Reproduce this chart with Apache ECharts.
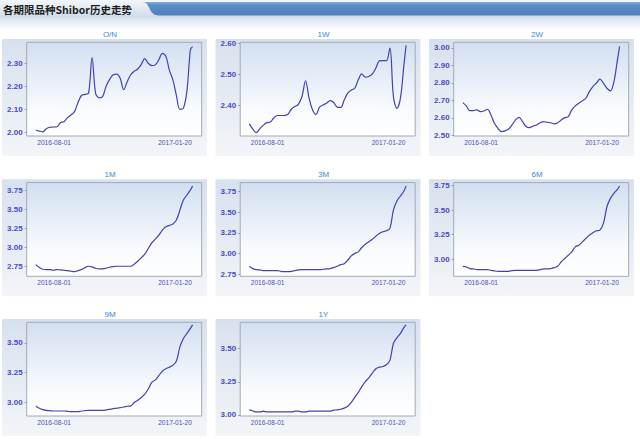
<!DOCTYPE html>
<html><head><meta charset="utf-8">
<script src="https://cdn.jsdelivr.net/npm/echarts@6/dist/echarts.min.js"></script>
<style>html,body{margin:0;padding:0;background:#fff;overflow:hidden}#c{width:640px;height:439px}</style>
</head><body><div id="c"></div>
<script>
const DATES = ['2016-07-06','2016-07-11','2016-07-16','2016-07-21','2016-07-26','2016-07-31',
'2016-08-05','2016-08-10','2016-08-15','2016-08-20','2016-08-25','2016-08-30',
'2016-09-04','2016-09-09','2016-09-14','2016-09-19','2016-09-24','2016-09-29',
'2016-10-04','2016-10-09','2016-10-14','2016-10-19','2016-10-24','2016-10-29',
'2016-11-03','2016-11-08','2016-11-13','2016-11-18','2016-11-23','2016-11-28',
'2016-12-03','2016-12-08','2016-12-13','2016-12-18','2016-12-23','2016-12-28',
'2017-01-02','2017-01-07','2017-01-12','2017-01-17','2017-01-22','2017-01-27',
'2017-02-01','2017-02-06','2017-02-11','2017-02-14'];

const ON = [2.010,2.005,2.002,2.016,2.022,2.023,2.024,2.042,2.046,2.064,2.075,2.090,2.130,2.160,2.165,2.170,2.325,2.170,2.150,2.155,2.200,2.230,2.250,2.253,2.235,2.185,2.220,2.250,2.265,2.275,2.295,2.320,2.300,2.290,2.293,2.315,2.343,2.330,2.270,2.228,2.160,2.100,2.105,2.180,2.360,2.372];
const W1 = [2.341,2.324,2.313,2.326,2.337,2.345,2.347,2.361,2.368,2.368,2.368,2.372,2.389,2.397,2.405,2.430,2.480,2.424,2.386,2.372,2.395,2.402,2.408,2.416,2.410,2.395,2.394,2.418,2.440,2.450,2.456,2.483,2.502,2.492,2.494,2.502,2.521,2.544,2.545,2.545,2.585,2.429,2.391,2.424,2.532,2.594];
const W2 = [2.687,2.668,2.641,2.641,2.645,2.635,2.639,2.649,2.616,2.569,2.540,2.521,2.525,2.536,2.559,2.588,2.603,2.578,2.550,2.544,2.553,2.559,2.572,2.578,2.574,2.572,2.565,2.572,2.588,2.601,2.607,2.645,2.668,2.683,2.697,2.712,2.750,2.779,2.798,2.821,2.798,2.769,2.754,2.807,2.931,3.008];
const M1 = [2.772,2.732,2.710,2.706,2.706,2.697,2.706,2.701,2.697,2.692,2.684,2.679,2.692,2.706,2.732,2.750,2.741,2.723,2.715,2.715,2.723,2.737,2.746,2.750,2.750,2.750,2.750,2.750,2.777,2.816,2.861,2.909,2.984,3.060,3.108,3.161,3.228,3.272,3.290,3.308,3.361,3.493,3.626,3.692,3.759,3.812];
const M3 = [2.847,2.819,2.807,2.803,2.795,2.795,2.795,2.795,2.795,2.786,2.782,2.782,2.786,2.795,2.803,2.807,2.807,2.807,2.807,2.807,2.807,2.811,2.815,2.819,2.831,2.847,2.867,2.879,2.920,2.973,3.001,3.021,3.074,3.114,3.143,3.175,3.212,3.244,3.264,3.276,3.305,3.527,3.637,3.697,3.758,3.819];
const M6 = [2.928,2.921,2.904,2.901,2.894,2.894,2.894,2.894,2.887,2.881,2.877,2.877,2.877,2.877,2.884,2.887,2.887,2.887,2.887,2.887,2.887,2.887,2.894,2.901,2.901,2.904,2.915,2.928,2.973,3.007,3.041,3.075,3.126,3.143,3.177,3.211,3.245,3.269,3.290,3.297,3.365,3.535,3.620,3.672,3.712,3.747];
const M9 = [2.966,2.949,2.938,2.932,2.929,2.926,2.926,2.926,2.926,2.923,2.920,2.920,2.920,2.926,2.929,2.932,2.932,2.932,2.932,2.932,2.935,2.940,2.946,2.949,2.955,2.960,2.966,2.969,2.997,3.017,3.040,3.068,3.111,3.168,3.188,3.224,3.261,3.281,3.295,3.310,3.347,3.466,3.537,3.580,3.622,3.651];
const Y1 = [3.038,3.030,3.023,3.023,3.028,3.023,3.023,3.023,3.023,3.023,3.023,3.023,3.023,3.028,3.028,3.023,3.023,3.028,3.028,3.028,3.028,3.028,3.028,3.028,3.036,3.038,3.043,3.051,3.066,3.094,3.132,3.170,3.213,3.251,3.279,3.315,3.348,3.360,3.365,3.378,3.411,3.538,3.581,3.614,3.660,3.678];

const NAMES = ['O/N','1W','2W','1M','3M','6M','9M','1Y'];
const X_LABELS = ['2016-08-01','2017-01-20'];
const X_RANGE = ['2016-06-23','2017-02-27'];
const ON_TICKS = [2.00,2.10,2.20,2.30];
const W1_TICKS = [2.40,2.50,2.60];
const W2_TICKS = [2.50,2.60,2.70,2.80,2.90,3.00];
const M1_TICKS = [2.75,3.00,3.25,3.50,3.75];
const M3_TICKS = [2.75,3.00,3.25,3.50,3.75];
const M6_TICKS = [3.00,3.25,3.50,3.75];
const M9_TICKS = [3.00,3.25,3.50];
const Y1_TICKS = [3.00,3.25,3.50];
const TITLE = '各期限品种Shibor历史走势';

const SERIES = [ON,W1,W2,M1,M3,M6,M9,Y1];
const TICKS = [ON_TICKS,W1_TICKS,W2_TICKS,M1_TICKS,M3_TICKS,M6_TICKS,M9_TICKS,Y1_TICKS];
const Y_MIN = [1.984,2.302,2.496,2.617,2.726,2.826,2.884,2.992];
const Y_MAX = [2.391,2.604,3.032,3.856,3.859,3.781,3.673,3.698];

function ts(s){const p=s.split('-').map(Number);return new Date(p[0],p[1]-1,p[2]).getTime();}
function pad(n){return (n<10?'0':'')+n;}
function fmtDate(v){const d=new Date(v);return d.getFullYear()+'-'+pad(d.getMonth()+1)+'-'+pad(d.getDate());}
function lg(stops){return {type:'linear',x:0,y:0,x2:0,y2:1,colorStops:stops.map(s=>({offset:s[0],color:s[1]}))};}

const COL_X=[0,213.5,427], ROW_Y=[0,140.3,280];
const grids=[],xAxes=[],yAxes=[],series=[];
const graphics=[
  {type:'rect',shape:{x:0,y:0,width:640,height:18},z:-20,style:{fill:lg([[0,'#f3f6fa'],[1,'#cddbea']])}},
  {type:'polygon',shape:{points:[[142,2],[640,2],[640,15.5],[158,15.5],[154,14.5],[151,11.5],[149,7.5],[147,4],[145,2.5]]},z:-19,
    style:{fill:lg([[0,'#86aedb'],[0.25,'#5a8cc6'],[1,'#4d81be']])}},
  {type:'rect',shape:{x:0,y:18,width:640,height:12},z:-20,style:{fill:lg([[0,'#d9e3ee'],[1,'#ffffff']])}},
  {type:'text',x:3,y:9.5,z:5,style:{text:TITLE,fill:'#1e1e1e',font:'bold 10.5px "Noto Sans CJK SC", sans-serif',textVerticalAlign:'middle',textAlign:'left'}}
];
for(let k=0;k<8;k++){
  const cx=COL_X[k%3], ry=ROW_Y[Math.floor(k/3)];
  graphics.push({type:'rect',z:-10,shape:{x:2+cx,y:39+ry,width:205,height:117},style:{fill:lg([[0,'#d7e1ee'],[1,'#f3f5f8']])}});
  graphics.push({type:'text',z:5,x:110+cx,y:34+ry,style:{text:NAMES[k],fill:'#3d86d2',font:'8px "Liberation Sans", Arial, sans-serif',textAlign:'center',textVerticalAlign:'middle'}});
  grids.push({left:26.7+cx,top:42.3+ry,width:175,height:93.7,show:true,
    backgroundColor:lg([[0,'#d2dff1'],[0.7,'#f8fafd'],[1,'#ffffff']]),borderColor:'#a2aab5',borderWidth:1,containLabel:false});
  xAxes.push({type:'value',gridIndex:k,min:ts(X_RANGE[0]),max:ts(X_RANGE[1]),scale:true,
    axisLine:{show:false},axisTick:{show:false},splitLine:{show:false},
    axisLabel:{customValues:X_LABELS.map(ts),formatter:v=>fmtDate(v),color:'#5050b8',fontSize:6.6,fontFamily:'"Liberation Sans", Arial, sans-serif',margin:3}});
  yAxes.push({type:'value',gridIndex:k,min:Y_MIN[k],max:Y_MAX[k],scale:true,
    axisLine:{show:false},splitLine:{show:false},
    axisTick:{show:true,customValues:TICKS[k],length:2,lineStyle:{color:'#8f96a3'}},
    axisLabel:{customValues:TICKS[k],formatter:v=>Number(v).toFixed(2),color:'#4a4abf',fontSize:8,fontWeight:'bold',fontFamily:'"Liberation Sans", Arial, sans-serif',margin:4}});
  series.push({type:'line',xAxisIndex:k,yAxisIndex:k,smooth:0.35,showSymbol:false,symbol:'none',
    lineStyle:{color:'#4343ab',width:1.2},data:DATES.map((d,i)=>[ts(d),SERIES[k][i]])});
}
const chart=echarts.init(document.getElementById('c'),null,{renderer:'svg'});
chart.setOption({animation:false,backgroundColor:'#ffffff',grid:grids,xAxis:xAxes,yAxis:yAxes,series:series,graphic:{elements:graphics}});
</script></body></html>
